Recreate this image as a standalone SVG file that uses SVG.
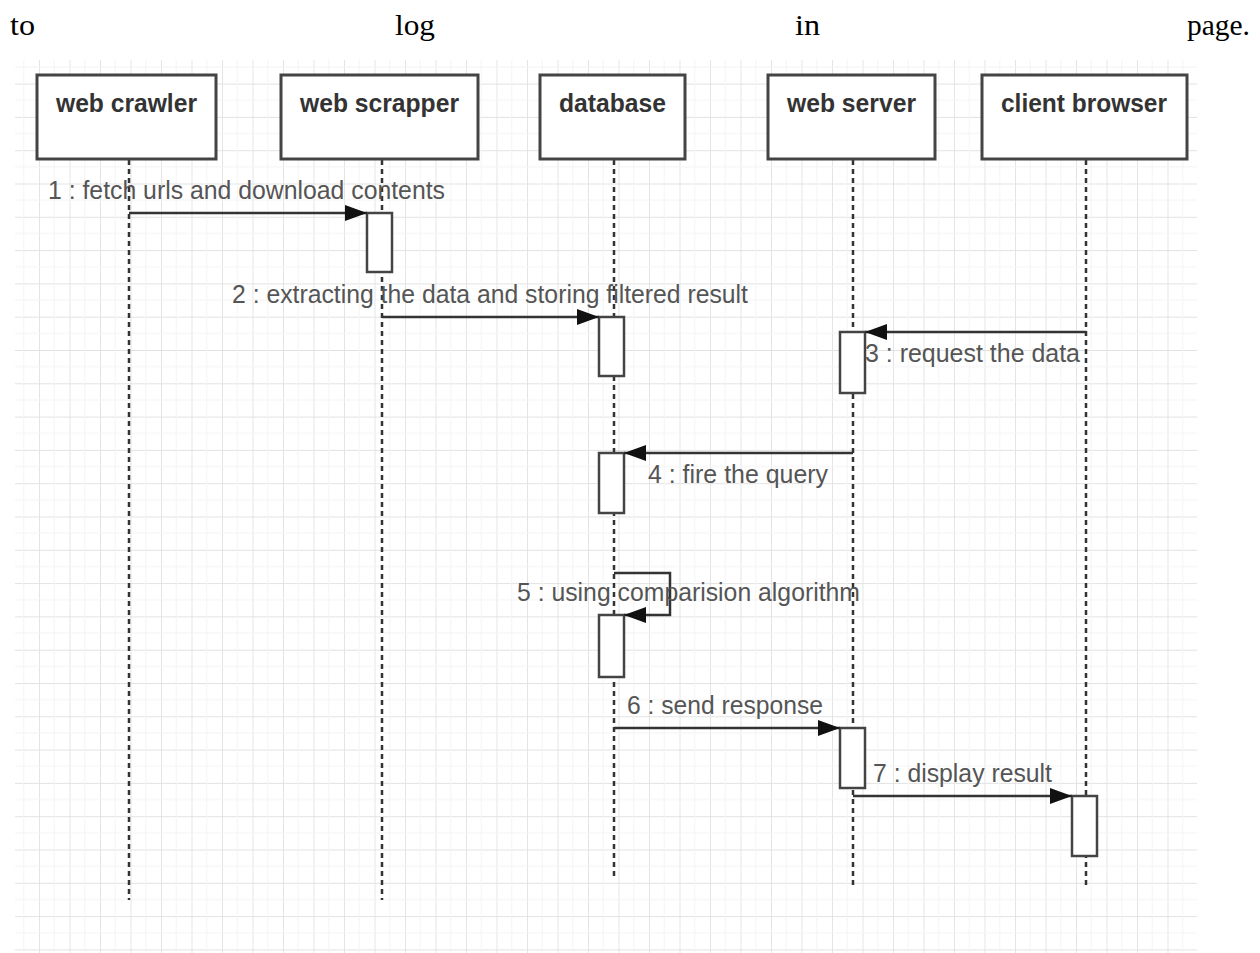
<svg xmlns="http://www.w3.org/2000/svg" width="1260" height="953" viewBox="0 0 1260 953">
<defs>
<pattern id="grid" x="8.5" y="17" width="30.5" height="33.3" patternUnits="userSpaceOnUse">
<path d="M0 0V33.3M0 0H30.5" fill="none" stroke="#e2e2e2" stroke-width="1.8"/>
<path d="M15.25 0V33.3M0 16.65H30.5" fill="none" stroke="#f4f4f4" stroke-width="1"/>
</pattern>
<marker id="ah" viewBox="0 0 22 16" refX="22" refY="8" markerWidth="22" markerHeight="16" markerUnits="userSpaceOnUse" orient="auto">
<path d="M0 0L22 8L0 16Z" fill="#111"/>
</marker>
</defs>
<style>
.top{font-family:"Liberation Serif",serif;font-size:30px;fill:#000}
.box{fill:#fff;stroke:#444;stroke-width:3}
.nl{font-family:"Liberation Sans",Arial,sans-serif;font-size:25px;font-weight:bold;fill:#333}
.life{stroke:#333;stroke-width:2.5;stroke-dasharray:5 4;fill:none}
.act{fill:#fff;stroke:#444;stroke-width:2.5}
.msg{stroke:#333;stroke-width:2.5;fill:none}
.ml{font-family:"Liberation Sans",Arial,sans-serif;font-size:25px;fill:#555}
</style>
<rect width="1260" height="953" fill="#fff"/>
<text class="top" x="10" y="35" textLength="25" lengthAdjust="spacingAndGlyphs">to</text>
<text class="top" x="395" y="35" textLength="40" lengthAdjust="spacingAndGlyphs">log</text>
<text class="top" x="795" y="35" textLength="25" lengthAdjust="spacingAndGlyphs">in</text>
<text class="top" x="1187" y="35" textLength="63" lengthAdjust="spacingAndGlyphs">page.</text>
<rect x="15" y="60" width="1182" height="893" fill="url(#grid)"/>

<g id="lifelines">
<line class="life" x1="129" y1="160" x2="129" y2="900"/>
<line class="life" x1="382" y1="160" x2="382" y2="900"/>
<line class="life" x1="614" y1="160" x2="614" y2="878"/>
<line class="life" x1="853" y1="160" x2="853" y2="888"/>
<line class="life" x1="1086" y1="160" x2="1086" y2="888"/>
</g>

<g id="web-crawler">
<rect class="box" x="37" y="75" width="179" height="84"/>
<text class="nl" x="56" y="112" textLength="141" lengthAdjust="spacingAndGlyphs">web crawler</text>
</g>
<g id="web-scrapper">
<rect class="box" x="281" y="75" width="197" height="84"/>
<text class="nl" x="300" y="112" textLength="159" lengthAdjust="spacingAndGlyphs">web scrapper</text>
</g>
<g id="database">
<rect class="box" x="540" y="75" width="145" height="84"/>
<text class="nl" x="559" y="112" textLength="107" lengthAdjust="spacingAndGlyphs">database</text>
</g>
<g id="web-server">
<rect class="box" x="768" y="75" width="167" height="84"/>
<text class="nl" x="787" y="112" textLength="129" lengthAdjust="spacingAndGlyphs">web server</text>
</g>
<g id="client-browser">
<rect class="box" x="982" y="75" width="205" height="84"/>
<text class="nl" x="1001" y="112" textLength="166" lengthAdjust="spacingAndGlyphs">client browser</text>
</g>

<g id="activations">
<rect class="act" x="367" y="213" width="25" height="59"/>
<rect class="act" x="599" y="317" width="25" height="59"/>
<rect class="act" x="840" y="332" width="25" height="61"/>
<rect class="act" x="599" y="453" width="25" height="60"/>
<rect class="act" x="599" y="615" width="25" height="62"/>
<rect class="act" x="840" y="728" width="25" height="60"/>
<rect class="act" x="1072" y="796" width="25" height="60"/>
</g>

<g id="connectors">
<line class="msg" x1="129" y1="213" x2="367" y2="213" marker-end="url(#ah)"/>
<line class="msg" x1="382" y1="317" x2="599" y2="317" marker-end="url(#ah)"/>
<line class="msg" x1="1086" y1="332" x2="865" y2="332" marker-end="url(#ah)"/>
<line class="msg" x1="853" y1="453" x2="624" y2="453" marker-end="url(#ah)"/>
<polyline class="msg" points="614,573 670,573 670,615 624,615" marker-end="url(#ah)"/>
<line class="msg" x1="614" y1="728" x2="840" y2="728" marker-end="url(#ah)"/>
<line class="msg" x1="853" y1="796" x2="1072" y2="796" marker-end="url(#ah)"/>
</g>

<g id="labels">
<text class="ml" x="48" y="199" textLength="397" lengthAdjust="spacingAndGlyphs">1 : fetch urls and download contents</text>
<text class="ml" x="232" y="303" textLength="516" lengthAdjust="spacingAndGlyphs">2 : extracting the data and storing filtered result</text>
<text class="ml" x="865" y="362" textLength="215" lengthAdjust="spacingAndGlyphs">3 : request the data</text>
<text class="ml" x="648" y="483" textLength="180" lengthAdjust="spacingAndGlyphs">4 : fire the query</text>
<text class="ml" x="517" y="601" textLength="343" lengthAdjust="spacingAndGlyphs">5 : using comparision algorithm</text>
<text class="ml" x="627" y="714" textLength="196" lengthAdjust="spacingAndGlyphs">6 : send response</text>
<text class="ml" x="873" y="782" textLength="179" lengthAdjust="spacingAndGlyphs">7 : display result</text>
</g>
</svg>
